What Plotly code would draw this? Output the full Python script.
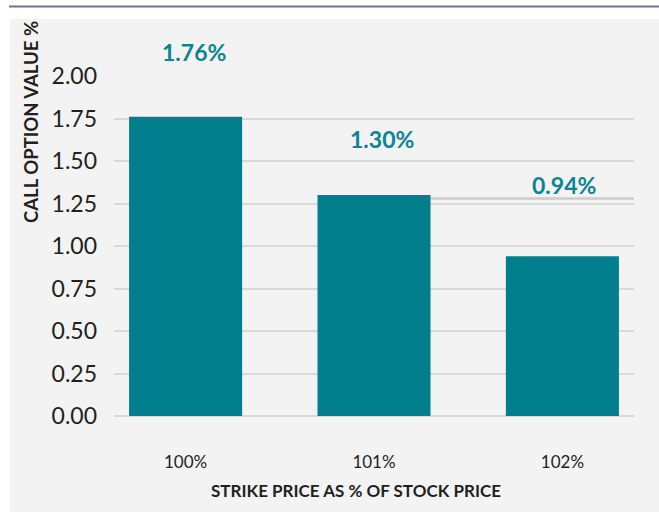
import plotly.graph_objects as go

categories = ["100%", "101%", "102%"]
values = [1.76, 1.30, 0.94]
value_labels = ["1.76%", "1.30%", "0.94%"]
y_ticks = [0, 0.25, 0.5, 0.75, 1.0, 1.25, 1.5, 1.75, 2.0]

W, H = 659, 512
L, R, T, B = 114, 25, 76, 96
pw, ph = W - L - R, H - T - B

def px_x(x):
    return (x - L) / pw

def px_y(y):
    return (H - B - y) / ph

TEAL = "#017f8c"
LABEL = "#0b8592"
TXT = "#231f20"
FONT = "Lato, sans-serif"

fig = go.Figure()
fig.add_trace(go.Bar(
    x=list(range(len(categories))), y=values, width=0.6,
    marker=dict(color=TEAL, line=dict(width=0)),
    hoverinfo="skip", showlegend=False,
))

# value labels above bars
label_shift = [65, 56, 71]
label_xshift = [8, 8, 2]
for i, (v, t) in enumerate(zip(values, value_labels)):
    fig.add_annotation(x=i, y=v, text="<b>%s</b>" % t, showarrow=False,
                       yshift=label_shift[i], xshift=label_xshift[i],
                       font=dict(family=FONT, size=23, color=LABEL))

shapes = [
    # light panel
    dict(type="rect", xref="paper", yref="paper", x0=px_x(10), x1=px_x(W + 5),
         y0=px_y(H + 5), y1=px_y(19), fillcolor="#f3f3f3", line=dict(width=0), layer="below"),
    # top rule
    dict(type="line", xref="paper", yref="paper", x0=px_x(9), x1=px_x(W + 5),
         y0=px_y(6.5), y1=px_y(6.5), line=dict(color="#6b7990", width=2)),
    # grey rule near 0.94% label
    dict(type="line", xref="x", yref="y", x0=1.3, x1=2.38, y0=1.28, y1=1.28,
         line=dict(color="#cccccc", width=2.5), layer="below"),
]

fig.update_layout(
    width=W, height=H,
    margin=dict(l=L, r=R, t=T, b=B),
    paper_bgcolor="white", plot_bgcolor="rgba(0,0,0,0)",
    shapes=shapes,
    bargap=0.4,
    xaxis=dict(range=[-0.38, 2.38], tickmode="array", tickvals=list(range(len(categories))),
               ticktext=categories, showgrid=False, zeroline=False, showline=False,
               ticks="", ticklabelstandoff=34,
               tickfont=dict(family=FONT, size=17, color=TXT)),
    yaxis=dict(range=[0, 2.0], tickmode="array", tickvals=y_ticks,
               tickformat=".2f", showgrid=True, gridcolor="#d9d9d9", gridwidth=1.5,
               zeroline=True, zerolinecolor="#d9d9d9", zerolinewidth=1.5,
               showline=False, ticks="", ticklabelstandoff=16,
               tickfont=dict(family=FONT, size=23, color=TXT)),
)

fig.add_annotation(xref="paper", yref="paper", x=px_x(356), y=px_y(503),
                   text="<b>STRIKE PRICE AS % OF STOCK PRICE</b>", showarrow=False,
                   font=dict(family=FONT, size=17, color=TXT))
fig.add_annotation(xref="paper", yref="paper", x=px_x(31), y=px_y(19),
                   yanchor="top", xanchor="center", textangle=-90,
                   text="<b>CALL OPTION VALUE %</b>", showarrow=False,
                   font=dict(family=FONT, size=18.5, color=TXT))

fig.write_html("out.html", config={"displayModeBar": False},
               post_script="document.body.style.margin='0';document.body.style.padding='0';")
